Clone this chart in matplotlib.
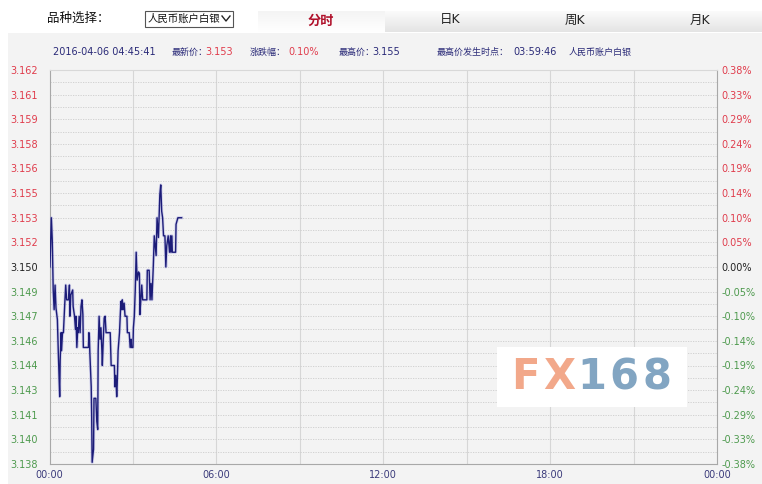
import matplotlib
matplotlib.use('Agg')
import matplotlib.pyplot as plt
from matplotlib.patches import Rectangle
from matplotlib.lines import Line2D
import numpy as np

plt.rcParams['font.family'] = ['DejaVu Sans', 'Noto Sans CJK SC']

# minutes after 00:00 and price
Minutes = [1, 4, 6, 8, 10, 12, 14, 17, 19, 21, 22, 23, 25, 26, 28, 30, 33, 35, 37, 41,
           43, 44, 46, 50, 51, 54, 56, 57, 59, 61, 62, 64, 66, 68, 70, 72, 73, 84, 85, 86,
           87, 90, 91, 92, 95, 96, 100, 102, 104, 105, 107, 109, 111, 113, 114, 116, 118, 120, 122, 131,
           133, 140, 141, 143, 145, 146, 148, 151, 154, 156, 157, 159, 161, 163, 167, 168, 172, 174, 176, 177,
           180, 181, 183, 185, 187, 189, 192, 194, 195, 197, 199, 201, 210, 211, 215, 217, 219, 221, 224, 226,
           230, 232, 235, 238, 240, 242, 244, 246, 249, 251, 253, 256, 259, 261, 262, 264, 265, 272, 273, 277,
           285]
Price = [3.1500, 3.1530, 3.1516, 3.1486, 3.1474, 3.1489, 3.1475, 3.1468, 3.1448, 3.1430, 3.1421, 3.1443, 3.1460, 3.1449, 3.1460, 3.1460, 3.1478, 3.1489, 3.1480, 3.1480,
         3.1489, 3.1470, 3.1483, 3.1486, 3.1476, 3.1470, 3.1462, 3.1470, 3.1451, 3.1463, 3.1460, 3.1470, 3.1460, 3.1476, 3.1480, 3.1471, 3.1451, 3.1451, 3.1460, 3.1458,
         3.1448, 3.1427, 3.1409, 3.1381, 3.1389, 3.1420, 3.1420, 3.1406, 3.1401, 3.1449, 3.1470, 3.1456, 3.1463, 3.1449, 3.1440, 3.1456, 3.1469, 3.1470, 3.1460, 3.1460,
         3.1440, 3.1440, 3.1427, 3.1434, 3.1421, 3.1428, 3.1449, 3.1460, 3.1479, 3.1474, 3.1480, 3.1474, 3.1478, 3.1470, 3.1470, 3.1460, 3.1460, 3.1451, 3.1456, 3.1451,
         3.1451, 3.1463, 3.1470, 3.1486, 3.1509, 3.1492, 3.1497, 3.1496, 3.1471, 3.1480, 3.1489, 3.1480, 3.1480, 3.1498, 3.1498, 3.1480, 3.1490, 3.1480, 3.1501, 3.1519,
         3.1507, 3.1530, 3.1518, 3.1544, 3.1550, 3.1534, 3.1530, 3.1519, 3.1519, 3.1500, 3.1513, 3.1519, 3.1509, 3.1519, 3.1509, 3.1519, 3.1509, 3.1509, 3.1526, 3.1530,
         3.1530]

PrevClose = 3.150
YTicks = [3.138, 3.1395, 3.141, 3.1425, 3.144, 3.1455, 3.147, 3.1485, 3.150,
          3.1515, 3.153, 3.1545, 3.156, 3.1575, 3.159, 3.1605, 3.162]
YLabels = ['3.138', '3.140', '3.141', '3.143', '3.144', '3.146', '3.147', '3.149', '3.150',
           '3.152', '3.153', '3.155', '3.156', '3.158', '3.159', '3.161', '3.162']
PctLabels = ['-0.38%', '-0.33%', '-0.29%', '-0.24%', '-0.19%', '-0.14%', '-0.10%', '-0.05%', '0.00%',
             '0.05%', '0.10%', '0.14%', '0.19%', '0.24%', '0.29%', '0.33%', '0.38%']
XTicks = [0, 6, 12, 18, 24]
XLabels = ['00:00', '06:00', '12:00', '18:00', '00:00']

W, H = 762, 484
def fx(x): return x / W
def fy(y): return 1 - y / H

red = '#e03c4c'
green = '#4e9a4e'
navy = '#2a2a78'
panel = '#f3f3f3'

fig = plt.figure(figsize=(7.62, 4.84), dpi=100)
fig.patch.set_facecolor('white')

# gray panel (behind everything)
bg = fig.add_axes([fx(8), 0, fx(754), fy(33)], zorder=-5)
bg.set_facecolor(panel)
bg.axis('off')
bg.add_patch(Rectangle((0, 0), 1, 1, transform=bg.transAxes, facecolor=panel, edgecolor='none'))

# tab bar gradient
grad = np.linspace(1, 0, 50).reshape(-1, 1)
tab = fig.add_axes([fx(385), fy(32), fx(377), fy(11) - fy(32)])
tab.imshow(grad, aspect='auto', cmap=matplotlib.colors.LinearSegmentedColormap.from_list('g', ['#e4e4e4', '#fbfbfb']),
           extent=[0, 1, 0, 1])
tab.axis('off')
tab2 = fig.add_axes([fx(258), fy(32), fx(127), fy(11) - fy(32)])
tab2.imshow(grad, aspect='auto', cmap=matplotlib.colors.LinearSegmentedColormap.from_list('g', ['#ffffff', '#f4f4f4']),
            extent=[0, 1, 0, 1])
tab2.axis('off')

fig.text(fx(47), fy(18), '品种选择：', fontsize=9, color='#111111', va='center')
fig.patches.append(Rectangle((fx(145), fy(27)), fx(88), fy(11) - fy(27), transform=fig.transFigure,
                             facecolor='white', edgecolor='#555555', lw=0.8))
fig.text(fx(148), fy(19), '人民币账户白银', fontsize=7.5, color='#111111', va='center')
fig.lines.append(Line2D([fx(222), fx(226), fx(230)], [fy(16), fy(21), fy(16)], transform=fig.transFigure,
                        color='#222222', lw=1))
fig.text(fx(321), fy(21), '分时', fontsize=9.5, color='#b0102a', fontweight='bold', ha='center', va='center')
for xx, t in [(450, '日K'), (575, '周K'), (700, '月K')]:
    fig.text(fx(xx), fy(20), t, fontsize=9, color='#222222', ha='center', va='center')

# info line
iy = fy(52)
fs = 6.5
fig.text(fx(53), iy, '2016-04-06 04:45:41', fontsize=7, color=navy, va='center')
fig.text(fx(172), iy, '最新价：', fontsize=fs, color=navy, va='center')
fig.text(fx(205), iy, '3.153', fontsize=7, color=red, va='center')
fig.text(fx(250), iy, '涨跌幅：', fontsize=fs, color=navy, va='center')
fig.text(fx(288), iy, '0.10%', fontsize=7, color=red, va='center')
fig.text(fx(339), iy, '最高价：', fontsize=fs, color=navy, va='center')
fig.text(fx(372), iy, '3.155', fontsize=7, color=navy, va='center')
fig.text(fx(437), iy, '最高价发生时点：', fontsize=fs, color=navy, va='center')
fig.text(fx(513), iy, '03:59:46', fontsize=7, color=navy, va='center')
fig.text(fx(569), iy, '人民币账户白银', fontsize=fs, color=navy, va='center')

ax = fig.add_axes([fx(49.5), fy(464), fx(717) - fx(49.5), fy(70) - fy(464)])
ax.set_facecolor(panel)
ax.set_xlim(0, 24)
ax.set_ylim(YTicks[0], YTicks[-1])

# grid
for h in range(3, 24, 3):
    ax.axvline(h, color='#d6d6d6', lw=0.8, zorder=1)
for k in range(1, 2 * (len(YTicks) - 1)):
    yy = YTicks[0] + k * 0.00075
    ax.axhline(yy, color='#cccccc', lw=0.6, ls=(0, (1.5, 1.5)), zorder=1)

hours = np.array(Minutes) / 60.0
ax.plot(hours, Price, color='#8a8ad8', lw=2.2, alpha=0.35, zorder=3)
ax.plot(hours, Price, color='#1c1c78', lw=1.0, zorder=4)

for s in ax.spines.values():
    s.set_color('#a8a8a8')
    s.set_linewidth(0.8)
ax.spines['top'].set_color('#d8d8d8')

ax.set_yticks(YTicks)
ax.set_yticklabels(YLabels)
ax.tick_params(axis='y', length=0, labelsize=7, pad=28)
for lab in ax.get_yticklabels():
    lab.set_horizontalalignment('left')

ax2 = ax.twinx()
ax2.set_ylim(YTicks[0], YTicks[-1])
ax2.set_yticks(YTicks)
ax2.set_yticklabels(PctLabels)
ax2.tick_params(axis='y', length=0, labelsize=7, pad=3)
for s in ax2.spines.values():
    s.set_visible(False)

for labs in (ax.get_yticklabels(), ax2.get_yticklabels()):
    for lab, v in zip(labs, YTicks):
        if v > PrevClose + 1e-9:
            lab.set_color(red)
        elif v < PrevClose - 1e-9:
            lab.set_color(green)
        else:
            lab.set_color('#222222')

ax.set_xticks(XTicks)
ax.set_xticklabels(XLabels)
ax.tick_params(axis='x', length=0, labelsize=7, pad=4, labelcolor='#3a3a7a')

# watermark
wm = fig.add_axes([fx(497), fy(407), fx(190), fy(347) - fy(407)], zorder=5)
wm.set_facecolor('white')
wm.set_xticks([])
wm.set_yticks([])
for s in wm.spines.values():
    s.set_visible(False)
for ch, cx, col in [('F', 525, '#f2a88a'), ('X', 559, '#f2a88a'),
                    ('1', 592, '#82a5c2'), ('6', 624, '#82a5c2'), ('8', 657, '#82a5c2')]:
    wm.text((cx - 497) / 190, 0.5, ch, fontsize=30, fontweight='bold', color=col,
            va='center', ha='center', family='DejaVu Sans')

fig.savefig('out.png', dpi=100)
